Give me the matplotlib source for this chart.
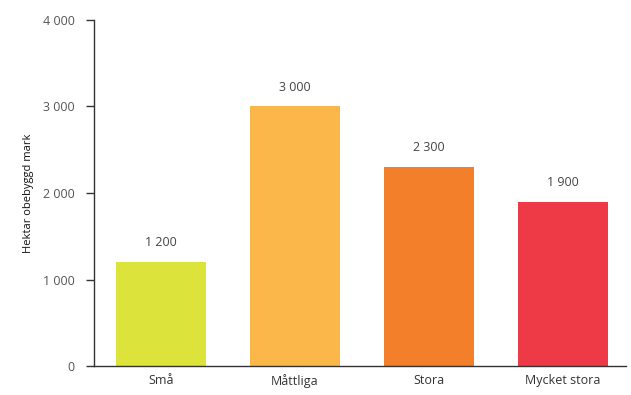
import matplotlib
matplotlib.use("Agg")
import matplotlib.pyplot as plt
from matplotlib.ticker import FuncFormatter

categories = ["Små", "Måttliga", "Stora", "Mycket stora"]
values = [1200, 3000, 2300, 1900]
colors = ["#DCE33B", "#FBB74A", "#F47F2B", "#EE3A46"]
yticks = [0, 1000, 2000, 3000, 4000]
ylabel = "Hektar obebyggd mark"

def fmt(v, pos=None):
    s = f"{int(v):,}".replace(",", " ")
    return s

plt.rcParams['font.family'] = ['Open Sans', 'DejaVu Sans']

fig = plt.figure(figsize=(6.31, 3.95), dpi=100)
ax = fig.add_axes([0.149, 0.0734, 0.843, 0.876])
x = range(len(categories))
bars = ax.bar(x, values, width=0.67, color=colors, zorder=2)
for xi, v in zip(x, values):
    ax.text(xi, v + 150, fmt(v), ha="center", va="bottom", fontsize=9, color="#444444")

ax.set_xlim(-0.5, 3.47)
ax.set_ylim(0, 4000)
ax.set_yticks(yticks)
ax.yaxis.set_major_formatter(FuncFormatter(fmt))
ax.set_xticks(list(x))
ax.set_xticklabels(categories)
for s in ["top", "right"]:
    ax.spines[s].set_visible(False)
for s in ["left", "bottom"]:
    ax.spines[s].set_color("#333333")
    ax.spines[s].set_linewidth(1.0)
ax.tick_params(axis="y", length=6, width=1, color="#333333", labelcolor="#555555", labelsize=9, pad=8)
ax.tick_params(axis="x", length=0, labelcolor="#333333", labelsize=9, pad=6)
ax.set_ylabel(ylabel, fontsize=8, color="#111111", labelpad=6)

fig.savefig("out.png", dpi=100)
